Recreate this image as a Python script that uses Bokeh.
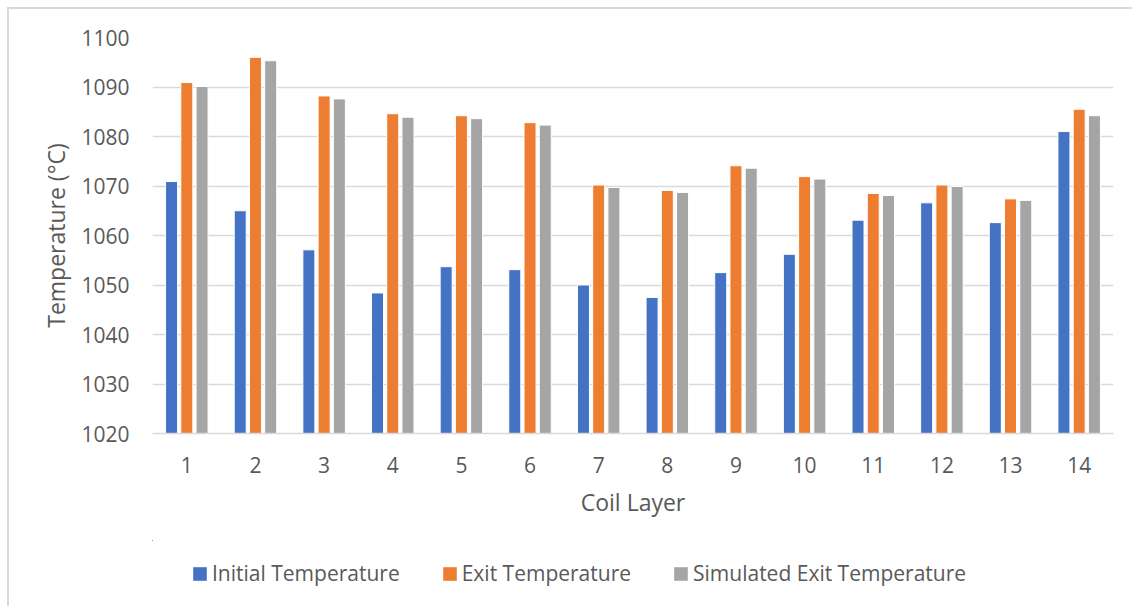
from bokeh.plotting import figure
from bokeh.layouts import column
from bokeh.models import (FactorRange, Range1d, FixedTicker, Legend, LegendItem,
                          ColumnDataSource)
from bokeh.transform import dodge
from bokeh.embed import file_html
from bokeh.resources import INLINE

layers = [str(i) for i in range(1, 15)]
initial_temp = [1070.9, 1065.0, 1057.1, 1048.4, 1053.7, 1053.1, 1050.0,
                1047.5, 1052.5, 1056.2, 1063.1, 1066.6, 1062.6, 1081.0]
exit_temp = [1090.9, 1096.0, 1088.2, 1084.6, 1084.2, 1082.8, 1070.2,
             1069.1, 1074.1, 1071.9, 1068.5, 1070.2, 1067.4, 1085.5]
sim_exit_temp = [1090.1, 1095.3, 1087.6, 1083.9, 1083.6, 1082.3, 1069.7,
                 1068.7, 1073.6, 1071.4, 1068.1, 1069.9, 1067.1, 1084.2]
y_ticks = [1020, 1030, 1040, 1050, 1060, 1070, 1080, 1090, 1100]
series_names = ["Initial Temperature", "Exit Temperature", "Simulated Exit Temperature"]
colors = ["#4472C4", "#ED7D31", "#A5A5A5"]

FONT = "Open Sans"
TXT = "#595959"
GRID = "#D9D9D9"

src = ColumnDataSource(dict(layer=layers, init=initial_temp, exit=exit_temp, sim=sim_exit_temp))

p = figure(width=1123, height=531, x_range=FactorRange(*layers, range_padding=0),
           y_range=Range1d(y_ticks[0], y_ticks[-1]), output_backend="svg",
           toolbar_location=None, min_border_left=143, min_border_right=19,
           min_border_top=28, min_border_bottom=107)
p.outline_line_color = None
p.background_fill_color = "white"
p.border_fill_color = "white"

keys = ["init", "exit", "sim"]
for key, off, col in zip(keys, [-0.222, 0.0, 0.222], colors):
    p.vbar(x=dodge("layer", off, range=p.x_range), top=key, bottom=y_ticks[0],
           width=0.175, source=src, fill_color=col, line_color="white", line_width=1)

p.yaxis.ticker = FixedTicker(ticks=y_ticks)
p.yaxis.axis_line_color = None
p.yaxis.major_tick_line_color = None
p.yaxis.minor_tick_line_color = None
p.yaxis.major_label_standoff = 17
p.yaxis.axis_label = "Temperature (°C)"
p.yaxis.axis_label_standoff = 6

p.xaxis.axis_line_color = GRID
p.xaxis.axis_line_width = 1.5
p.xaxis.major_tick_line_color = None
p.xaxis.minor_tick_line_color = None
p.xaxis.major_label_standoff = 17
p.xaxis.axis_label = "Coil Layer"
p.xaxis.axis_label_standoff = 10

for ax in [p.xaxis[0], p.yaxis[0]]:
    ax.major_label_text_font = FONT
    ax.major_label_text_font_size = "21px"
    ax.major_label_text_color = TXT
    ax.axis_label_text_font = FONT
    ax.axis_label_text_font_size = "23px"
    ax.axis_label_text_font_style = "normal"
    ax.axis_label_text_color = TXT

p.xgrid.grid_line_color = None
p.ygrid.grid_line_color = GRID
p.ygrid.grid_line_width = 1.5

# legend strip below the chart (its bars lie outside its own ranges, only the legend shows)
lg = figure(width=1123, height=66, x_range=Range1d(0, 1), y_range=Range1d(0, 1),
            x_axis_type=None, y_axis_type=None, output_backend="svg",
            toolbar_location=None, min_border=0)
lg.outline_line_color = None
lg.grid.grid_line_color = None
lg.border_fill_color = "white"
lg_renderers = [lg.vbar(x=-5, top=key, bottom=y_ticks[0], width=0.175, source=src,
                        fill_color=c, line_color=None)
                for key, c in zip(keys, colors)]
legend = Legend(items=[LegendItem(label=n, renderers=[r]) for n, r in zip(series_names, lg_renderers)],
                orientation="horizontal", location=(39, 19), padding=0, margin=0,
                spacing=41, label_standoff=4, glyph_width=17, glyph_height=17, label_height=20,
                border_line_color=None, background_fill_alpha=0,
                label_text_font=FONT, label_text_font_size="21px", label_text_color=TXT)
lg.add_layout(legend, "center")

layout = column(p, lg, spacing=0)
layout.styles = {"margin-left": "7px", "margin-top": "7px",
                 "border-left": "2px solid #D9D9D9", "border-top": "2px solid #D9D9D9"}

open("out.html", "w").write(file_html(layout, INLINE))
